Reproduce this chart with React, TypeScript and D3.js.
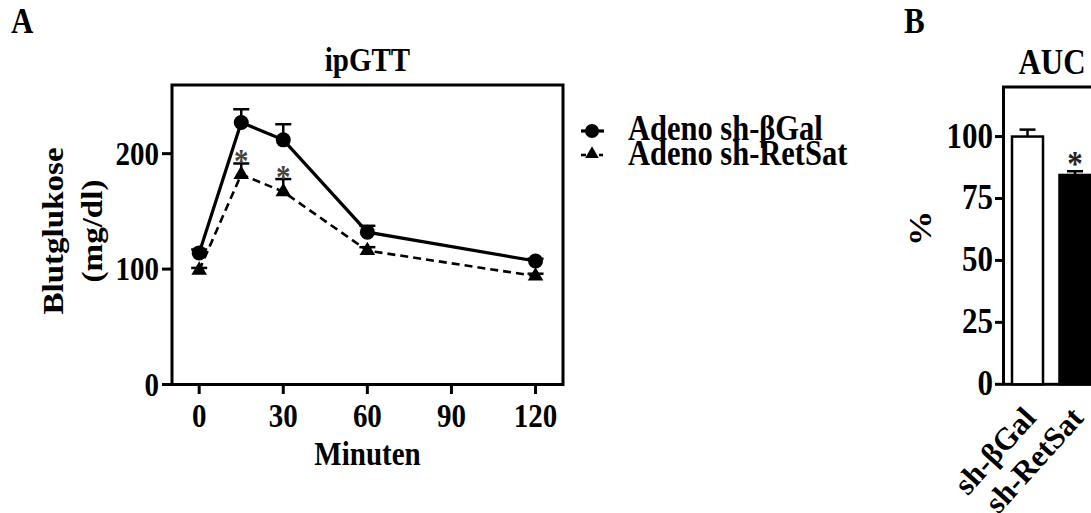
import React from 'react'
import * as d3 from 'd3'

// Panel A: ipGTT
const times = [0, 15, 30, 60, 120]
const galMean = [114, 227, 212, 132, 107]
const galSem = [3, 11.5, 13.5, 5.5, 2]
const retMean = [99, 182, 167, 116, 94]
const retSem = [2, 9.5, 11, 3, 2]
const retSig = [false, true, true, false, false]
const xTicksA = [0, 30, 60, 90, 120]
const yTicksA = [0, 100, 200]
const legendLabels = ['Adeno sh-βGal', 'Adeno sh-RetSat']

// Panel B: AUC
const aucGroups = ['sh-βGal', 'sh-RetSat']
const aucMean = [100, 84.5]
const aucSem = [2.8, 1.5]
const aucSig = [false, true]
const yTicksB = [0, 25, 50, 75, 100]

const W = 1091
const H = 513
const FONT = '"Liberation Serif", "Times New Roman", serif'
const STRETCH = 1.14 // source figure is slightly stretched vertically

// text helper: positioned by translate, stretched vertically, optional rotation
const T = ({ x, y, rot = 0, size = 29, anchor = 'start', fill = '#000', stretch = STRETCH, children }: any) => (
	<text
		transform={`translate(${x}, ${y}) scale(1, ${stretch})${rot ? ` rotate(${rot})` : ''}`}
		textAnchor={anchor}
		fontFamily={FONT}
		fontWeight='bold'
		fontSize={size}
		fill={fill}
	>
		{children}
	</text>
)

const App = () => {
	// scales for A
	const x = d3.scaleLinear().domain([-9.7, 129.8]).range([172, 563])
	const y = d3.scaleLinear().domain([0, 259.5]).range([384.5, 85])

	// scales for B
	const xb = d3.scalePoint<string>().domain(aucGroups).range([1027.5, 1075])
	const yb = d3.scaleLinear().domain([0, 120]).range([384.3, 87])
	const barW = 31

	const galPts = times.map((t, i) => ({ t, v: galMean[i], e: galSem[i] }))
	const retPts = times.map((t, i) => ({ t, v: retMean[i], e: retSem[i], s: retSig[i] }))

	const line = d3
		.line<{ t: number; v: number }>()
		.x(d => x(d.t))
		.y(d => y(d.v))

	const tri = d3.symbol().type(d3.symbolTriangle).size(105)()
	const triSmall = d3.symbol().type(d3.symbolTriangle).size(80)()
	const midA = (x.range()[0] + x.range()[1]) / 2

	return (
		<svg width={W} height={H} style={{ position: 'absolute', left: 0, top: 0, background: '#fff' }}>
			<rect width={W} height={H} fill='#fff' />

			{/* ---------- Panel A ---------- */}
			<T x={11} y={33} size={31}>A</T>
			<T x={midA} y={71} anchor='middle'>ipGTT</T>

			{/* frame */}
			<rect x={172} y={85} width={563 - 172} height={384.5 - 85} fill='none' stroke='#000' strokeWidth={3} />

			{/* y axis */}
			{yTicksA.map(t => (
				<g key={t}>
					<line x1={162} x2={172} y1={y(t)} y2={y(t)} stroke='#000' strokeWidth={3} />
					<T x={159} y={y(t) + 11} anchor='end'>{t}</T>
				</g>
			))}
			<T x={63} y={y(133)} rot={-90} anchor='middle'>Blutglukose</T>
			<T x={102} y={y(133)} rot={-90} anchor='middle'>(mg/dl)</T>

			{/* x axis ticks (offset under frame) */}
			{xTicksA.map(t => (
				<g key={t}>
					<line x1={x(t)} x2={x(t)} y1={386} y2={394} stroke='#000' strokeWidth={3} />
					<T x={x(t)} y={427} anchor='middle'>{t}</T>
				</g>
			))}
			<T x={midA} y={465} anchor='middle'>Minuten</T>

			{/* error bars */}
			{[...galPts, ...retPts].map((d, i) => (
				<g key={'e' + i} stroke='#000' strokeWidth={2.5}>
					<line x1={x(d.t)} x2={x(d.t)} y1={y(d.v)} y2={y(d.v + d.e)} />
					<line x1={x(d.t) - 8} x2={x(d.t) + 8} y1={y(d.v + d.e)} y2={y(d.v + d.e)} />
				</g>
			))}

			{/* lines */}
			<path d={line(galPts) || ''} fill='none' stroke='#000' strokeWidth={3.2} />
			<path d={line(retPts) || ''} fill='none' stroke='#000' strokeWidth={2.6} strokeDasharray='8,5' />

			{/* markers */}
			{galPts.map(d => (
				<circle key={'gc' + d.t} cx={x(d.t)} cy={y(d.v)} r={7.5} fill='#000' />
			))}
			{retPts.map(d => (
				<path key={'rt' + d.t} d={tri || ''} transform={`translate(${x(d.t)}, ${y(d.v)})`} fill='#000' />
			))}

			{/* significance */}
			{retPts.filter(d => d.s).map(d => (
				<T key={'rs' + d.t} x={x(d.t)} y={y(d.v + d.e) + 9} anchor='middle' fill='#444'>*</T>
			))}

			{/* legend */}
			<line x1={581} x2={604} y1={131} y2={131} stroke='#000' strokeWidth={3.2} />
			<circle cx={592} cy={131} r={7} fill='#000' />
			<T x={628} y={140} size={30.5}>{legendLabels[0]}</T>

			<line x1={581} x2={586} y1={155} y2={155} stroke='#000' strokeWidth={2.6} />
			<line x1={599} x2={603} y1={155} y2={155} stroke='#000' strokeWidth={2.6} />
			<path d={triSmall || ''} transform='translate(592, 154)' fill='#000' />
			<T x={628} y={165} size={30.5}>{legendLabels[1]}</T>

			{/* ---------- Panel B ---------- */}
			<T x={904} y={33} size={31}>B</T>
			<T x={1052} y={74} anchor='middle' size={31}>AUC</T>

			<rect x={1003.5} y={87} width={200} height={384.3 - 87} fill='none' stroke='#000' strokeWidth={3} />

			{yTicksB.map(t => (
				<g key={t}>
					<line x1={995} x2={1003} y1={yb(t)} y2={yb(t)} stroke='#000' strokeWidth={3} />
					<T x={993} y={yb(t) + 11} anchor='end' size={31}>{t}</T>
				</g>
			))}
			<T x={931} y={yb(63)} rot={-90} anchor='middle' size={31}>%</T>

			{aucGroups.map((g, i) => {
				const cx = xb(g) as number
				const top = yb(aucMean[i] + aucSem[i])
				return (
					<g key={g}>
						<line x1={cx} x2={cx} y1={yb(aucMean[i])} y2={top} stroke='#000' strokeWidth={2.5} />
						<line x1={cx - 8} x2={cx + 8} y1={top} y2={top} stroke='#000' strokeWidth={2.5} />
						<rect
							x={cx - barW / 2}
							y={yb(aucMean[i])}
							width={barW}
							height={yb(0) - yb(aucMean[i])}
							fill={i === 0 ? '#fff' : '#000'}
							stroke='#000'
							strokeWidth={2.5}
						/>
						{aucSig[i] && (
							<T x={cx} y={top + 5} anchor='middle' fill='#222' size={31}>*</T>
						)}
						<T x={cx + 10} y={419} rot={-48} anchor='end' size={31} stretch={1}>{g}</T>
					</g>
				)
			})}
		</svg>
	)
}

export default App
